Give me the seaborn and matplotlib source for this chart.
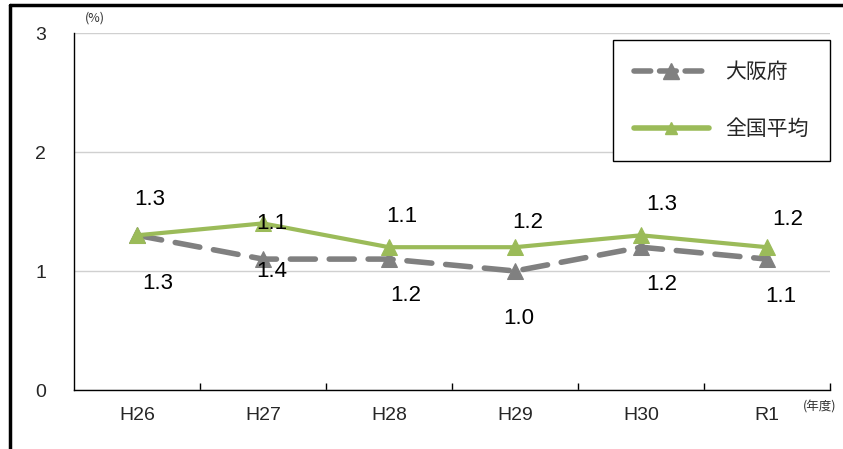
import matplotlib
matplotlib.use("Agg")
import matplotlib.pyplot as plt
import seaborn as sns
import pandas as pd
from matplotlib.lines import Line2D

years = ["H26", "H27", "H28", "H29", "H30", "R1"]
osaka = [1.3, 1.1, 1.1, 1.0, 1.2, 1.1]
national = [1.3, 1.4, 1.2, 1.2, 1.3, 1.2]
series_names = ["大阪府", "全国平均"]
upper_labels = ["1.3", "1.1", "1.1", "1.2", "1.3", "1.2"]
lower_labels = ["1.3", "1.4", "1.2", "1.0", "1.2", "1.1"]
yticks = [0, 1, 2, 3]

# label placement offsets (points) relative to the plotted points
upper_off = [(9, 26), (6, 0), (9, 22), (9, 18), (15, 22), (15, 20)]
lower_off = [(15, -35), (6, -9), (12, -26), (3, -34), (15, -27), (10, -27)]

sns.set_theme(style="white")
plt.rcParams['font.family'] = ['Liberation Sans', 'Noto Sans CJK JP', 'DejaVu Sans']

fig = plt.figure(figsize=(8.43, 4.49), dpi=100)
ax = fig.add_axes([0.0878, 0.1314, 0.8968, 0.7951])

df = pd.DataFrame({"year": years + years,
                   "value": osaka + national,
                   "series": [series_names[0]] * 6 + [series_names[1]] * 6})

gray = "#808080"
green = "#9BBB59"

sns.lineplot(data=df[df.series == series_names[0]], x="year", y="value", ax=ax,
             color=gray, linewidth=4, marker="^", markersize=11,
             markeredgecolor=gray, sort=False, dashes=False, zorder=3)
ax.lines[-1].set_linestyle((0, (4.5, 2.5)))
ax.lines[-1].set_dash_capstyle("round")
sns.lineplot(data=df[df.series == series_names[1]], x="year", y="value", ax=ax,
             color=green, linewidth=3, marker="^", markersize=11,
             markeredgecolor=green, sort=False, zorder=4)

for i in range(len(years)):
    ax.annotate(upper_labels[i], (i, national[i]), xytext=upper_off[i],
                textcoords="offset points", ha="center", va="center",
                fontsize=16, color="black", zorder=6)
    ax.annotate(lower_labels[i], (i, osaka[i]), xytext=lower_off[i],
                textcoords="offset points", ha="center", va="center",
                fontsize=16, color="black", zorder=6)

ax.set_xlim(-0.5, 5.5)
ax.set_ylim(0, 3)
ax.set_yticks(yticks)
ax.set_yticklabels([str(v) for v in yticks], fontsize=14)
ax.set_xticks(range(len(years)))
ax.set_xticklabels(years, fontsize=14)
ax.set_xticks([i + 0.5 for i in range(len(years))], minor=True)
ax.tick_params(axis="x", which="major", length=0, pad=12)
ax.tick_params(axis="x", which="minor", length=5, direction="in", width=1, color="black", bottom=True)
ax.tick_params(axis="y", length=0, pad=20)
ax.set_xlabel("")
ax.set_ylabel("")
ax.grid(axis="y", color="#d0d0d0", linewidth=1)
ax.grid(axis="x", visible=False)
for s in ["top", "right"]:
    ax.spines[s].set_visible(False)
for s in ["left", "bottom"]:
    ax.spines[s].set_color("black")
    ax.spines[s].set_linewidth(1)

handles = [Line2D([], [], color=gray, linewidth=4, linestyle=(0, (3, 1.6)),
                  dash_capstyle="round", marker="^", markersize=11),
           Line2D([], [], color=green, linewidth=4, marker="^", markersize=8)]
leg = ax.legend(handles, series_names, loc="upper left", bbox_to_anchor=(613 / 843, 1 - 40 / 449),
                bbox_transform=fig.transFigure, fontsize=15, frameon=True, fancybox=False,
                handlelength=3.6, labelspacing=1.7, borderpad=1.0, handletextpad=0.8,
                borderaxespad=0)
leg.get_frame().set_edgecolor("black")
leg.get_frame().set_linewidth(1)
leg.get_frame().set_alpha(1)
for t in leg.get_texts():
    t.set_family(['Noto Sans CJK JP'])

fig.text(95 / 843, 1 - 18 / 449, "(%)", fontsize=9, ha="center", va="center", color="#333333",
         family=['Noto Sans CJK JP'])
fig.text(820 / 843, 1 - 407 / 449, "(年度)", fontsize=9, ha="center", va="center", color="#333333",
         family=['Noto Sans CJK JP'])

fig.add_artist(Line2D([10 / 843, 1.0], [1 - 5 / 449, 1 - 5 / 449], transform=fig.transFigure,
                      color="black", linewidth=2.5))
fig.add_artist(Line2D([10 / 843, 10 / 843], [0, 1 - 5 / 449], transform=fig.transFigure,
                      color="black", linewidth=2.5))

fig.savefig("out.png", dpi=100)
